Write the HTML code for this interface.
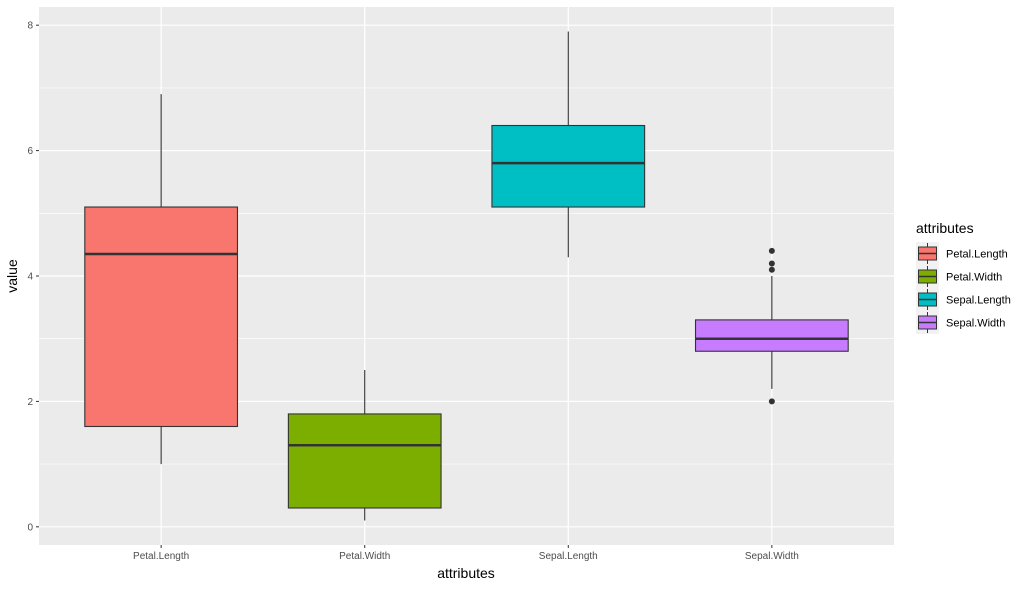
<!DOCTYPE html>
<html><head><meta charset="utf-8"><style>
body{margin:0;background:#fff;font-family:"Liberation Sans",sans-serif;}
</style></head><body>
<svg id="chart" width="1030" height="587" xmlns="http://www.w3.org/2000/svg" font-family="Liberation Sans, sans-serif">
<rect x="39" y="7" width="855" height="538" fill="#ebebeb"/>
<g id="grid"></g><g id="boxes"></g><g id="axes"></g>
<text x="466" y="578" font-size="14" text-anchor="middle" fill="#000">attributes</text>
<text transform="translate(17,276) rotate(-90)" font-size="14" text-anchor="middle" fill="#000">value</text>
<g id="legend">
<text x="916" y="233" font-size="14" fill="#000">attributes</text>
</g>
</svg>
<script>
const categories=["Petal.Length","Petal.Width","Sepal.Length","Sepal.Width"];
const lowWhisker=[1.0,0.1,4.3,2.2];
const q1=[1.6,0.3,5.1,2.8];
const median=[4.35,1.3,5.8,3.0];
const q3=[5.1,1.8,6.4,3.3];
const highWhisker=[6.9,2.5,7.9,4.0];
const outliers=[[],[],[],[4.4,4.1,4.2,2.0]];
const colors=["#f8766d","#7cae00","#00bfc4","#c77cff"];
const yTicks=[0,2,4,6,8];
const NS="http://www.w3.org/2000/svg";
const L=39,R=894,T=7,B=545;
const x=i=>L+(i+0.6)*(R-L)/4.2;
const y=v=>B-(v+0.29)*(B-T)/8.58;
const bw=0.75*(R-L)/4.2;
function mk(tag,attrs,parent){const e=document.createElementNS(NS,tag);for(const k in attrs)e.setAttribute(k,attrs[k]);parent.appendChild(e);return e;}
const grid=document.getElementById('grid'),boxes=document.getElementById('boxes'),axes=document.getElementById('axes'),leg=document.getElementById('legend');
for(let v=0;v<=8;v+=1){const l=mk('line',{x1:L,x2:R,y1:y(v),y2:y(v),stroke:'#fff','stroke-width':v%2?0.6:1.2},grid);

}
categories.forEach((c,i)=>{const l=mk('line',{x1:x(i),x2:x(i),y1:T,y2:B,stroke:'#fff','stroke-width':1.2},grid);

});
yTicks.forEach(v=>{const t=mk('text',{x:L-6,y:y(v)+3.5,'font-size':10,'text-anchor':'end',fill:'#4d4d4d'},axes);t.textContent=v;


mk('line',{x1:L-3,x2:L,y1:y(v),y2:y(v),stroke:'#333'},axes);});
categories.forEach((c,i)=>{const g=mk('g',{},boxes);


mk('line',{x1:x(i),x2:x(i),y1:y(lowWhisker[i]),y2:y(highWhisker[i]),stroke:'#333','stroke-width':1.1},g);
mk('rect',{x:x(i)-bw/2,y:y(q3[i]),width:bw,height:y(q1[i])-y(q3[i]),fill:colors[i],stroke:'#333','stroke-width':1.1},g);
mk('line',{x1:x(i)-bw/2,x2:x(i)+bw/2,y1:y(median[i]),y2:y(median[i]),stroke:'#333','stroke-width':2.5},g);
outliers[i].forEach(o=>{const p=mk('circle',{cx:x(i),cy:y(o),r:3,fill:'#333'},g);

});
const t=mk('text',{x:x(i),y:559,'font-size':10,'text-anchor':'middle',fill:'#4d4d4d'},axes);t.textContent=c;


mk('line',{x1:x(i),x2:x(i),y1:B,y2:B+3,stroke:'#333'},axes);
const ky=242+i*23;const kg=mk('g',{},leg);


mk('rect',{x:916,y:ky,width:23,height:23,fill:'#f2f2f2'},kg);
mk('line',{x1:927.5,x2:927.5,y1:ky+1,y2:ky+22,stroke:'#333'},kg);
mk('rect',{x:918.5,y:ky+5,width:18,height:13,fill:colors[i],stroke:'#333','stroke-width':1},kg);
mk('line',{x1:918.5,x2:936.5,y1:ky+11.5,y2:ky+11.5,stroke:'#333','stroke-width':1.5},kg);
const lt=mk('text',{x:946,y:ky+15.5,'font-size':11,fill:'#000'},kg);lt.textContent=c;});
</script>
</body></html>
